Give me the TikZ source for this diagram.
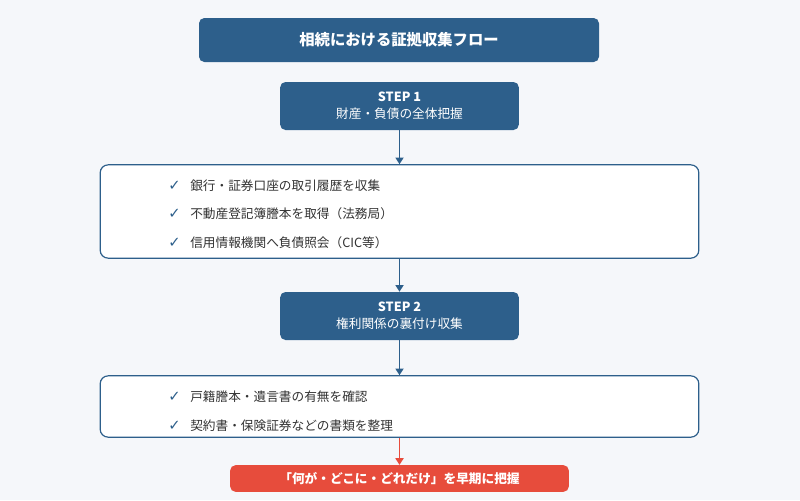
\documentclass[tikz,border=0pt]{standalone}
\usepackage{fontspec}
\setmainfont{Noto Sans CJK JP}
\newfontfamily\symfont{DejaVu Sans}
\usetikzlibrary{positioning,arrows.meta}
\definecolor{bgcol}{HTML}{F5F7FA}
\definecolor{navy}{HTML}{2D5F8B}
\definecolor{textcol}{HTML}{333333}
\definecolor{alert}{HTML}{E74C3C}
\tikzset{
    stepbox/.style={rectangle,rounded corners=4pt,fill=navy,text=white,align=center,font=\fontsize{9.5}{13}\selectfont},
    listbox/.style={rectangle,rounded corners=6pt,draw=navy,line width=0.9pt,fill=white},
    item/.style={anchor=west,text=textcol,font=\fontsize{9.5}{11}\selectfont,inner sep=0pt},
    tick/.style={anchor=east,text=navy,font=\symfont\fontsize{11}{11}\selectfont,inner sep=0pt},
    flow/.style={-{Triangle[width=6pt,length=5pt]},line width=1.4pt,draw=navy}
}
\begin{document}
\begin{tikzpicture}[x=0.75pt,y=-0.75pt]
    \fill[bgcol] (0,0) rectangle (800,500);
    \useasboundingbox (0,0) rectangle (800,500);
    % title
    \node[stepbox,minimum width=300pt,minimum height=33pt,font=\bfseries\fontsize{11.5}{13}\selectfont] (title) at (399,40) {相続における証拠収集フロー};
    % step 1
    \node[stepbox,minimum width=179pt,minimum height=36pt] (step1) at (399.5,106) {\textbf{STEP 1}\\財産・負債の全体把握};
    \node[listbox,minimum width=449pt,minimum height=70pt] (list1) at (399.5,211.5) {};
    \foreach \y/\t in {186/銀行・証券口座の取引履歴を収集,214/不動産登記簿謄本を取得（法務局）,243/信用情報機関へ負債照会（CIC等）}{
        \node[tick] at (181,\y) {✓};
        \node[item] at (190,\y) {\t};
    }
    % step 2
    \node[stepbox,minimum width=179pt,minimum height=36pt] (step2) at (399.5,316) {\textbf{STEP 2}\\権利関係の裏付け収集};
    \node[listbox,minimum width=449pt,minimum height=46pt] (list2) at (399.5,406.5) {};
    \foreach \y/\t in {397/戸籍謄本・遺言書の有無を確認,426/契約書・保険証券などの書類を整理}{
        \node[tick] at (181,\y) {✓};
        \node[item] at (190,\y) {\t};
    }
    % result
    \node[stepbox,fill=alert,minimum width=254pt,minimum height=20pt,font=\bfseries\fontsize{9.5}{11}\selectfont] (result) at (399.5,478.5) {「何が・どこに・どれだけ」を早期に把握};
    \draw[flow] (step1) -- (list1);
    \draw[flow] (list1) -- (step2);
    \draw[flow] (step2) -- (list2);
    \draw[flow,draw=alert] (list2) -- (result);
\end{tikzpicture}
\end{document}
